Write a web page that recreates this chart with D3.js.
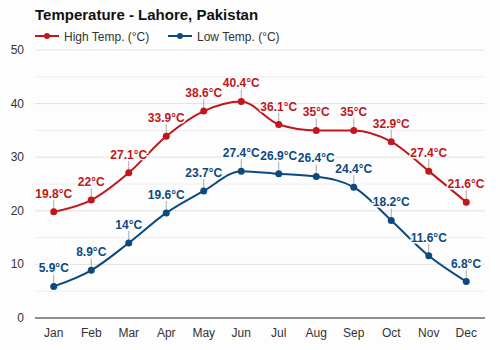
<!DOCTYPE html>
<html><head><meta charset="utf-8">
<script src="https://cdn.jsdelivr.net/npm/d3@7"></script>
<style>body{margin:0;background:#fff}svg{display:block}</style>
</head><body>
<script>
const months = ["Jan","Feb","Mar","Apr","May","Jun","Jul","Aug","Sep","Oct","Nov","Dec"];
const highTemp = [19.8,22,27.1,33.9,38.6,40.4,36.1,35,35,32.9,27.4,21.6];
const lowTemp = [5.9,8.9,14,19.6,23.7,27.4,26.9,26.4,24.4,18.2,11.6,6.8];
const yTicks = [0,10,20,30,40,50];
const title = "Temperature - Lahore, Pakistan";
const seriesNames = ["High Temp. (°C)","Low Temp. (°C)"];

const W=500,H=350;
const svg=d3.select("body").append("svg").attr("width",W).attr("height",H);
svg.append("rect").attr("width",W).attr("height",H).attr("fill","#fdfdfd");
const x=d3.scaleBand().domain(months).range([35,485]);
const y=d3.scaleLinear().domain([0,50]).range([318,50]);
const cx=m=>x(m)+x.bandwidth()/2;
const FONT="Arial, Liberation Sans, sans-serif";

// grid
svg.append("g").selectAll("line").data(d3.range(5,51,5)).join("line")
 .attr("x1",35).attr("x2",485).attr("y1",d=>y(d)).attr("y2",d=>y(d))
 .attr("stroke",d=>d%10===0?"#e2e2e2":"#eeeeee").attr("stroke-width",1);
svg.append("line").attr("x1",35).attr("x2",485).attr("y1",y(0)).attr("y2",y(0)).attr("stroke","#222").attr("stroke-width",1.2);

svg.append("g").selectAll("text").data(yTicks).join("text")
 .attr("x",24).attr("y",d=>y(d)+4).attr("text-anchor","end")
 .attr("font-family",FONT).attr("font-size",12).attr("fill","#333").text(d=>d);
svg.append("g").selectAll("text").data(months).join("text")
 .attr("x",d=>cx(d)).attr("y",337).attr("text-anchor","middle")
 .attr("font-family",FONT).attr("font-size",12).attr("fill","#333").text(d=>d);

svg.append("text").attr("x",35).attr("y",20).attr("font-family",FONT)
 .attr("font-size",15).attr("font-weight","bold").attr("fill","#111").text(title);

const series=[{name:seriesNames[0],vals:highTemp,color:"#c0161c"},{name:seriesNames[1],vals:lowTemp,color:"#0b4a80"}];
const lx=[35,168];
series.forEach((s,i)=>{
 const g=svg.append("g");
 g.append("line").attr("x1",lx[i]).attr("x2",lx[i]+24).attr("y1",36).attr("y2",36).attr("stroke",s.color).attr("stroke-width",2);
 g.append("circle").attr("cx",lx[i]+12).attr("cy",36).attr("r",3).attr("fill",s.color);
 g.append("text").attr("x",lx[i]+29).attr("y",40.5).attr("font-family",FONT)
  .attr("font-size",12).attr("fill","#333").text(s.name);
});

const line=d3.line().x((d,i)=>cx(months[i])).y(d=>y(d)).curve(d3.curveMonotoneX);
series.forEach(s=>{
 const g=svg.append("g");
 g.selectAll("line.lead").data(s.vals).join("line").attr("class","lead")
  .attr("x1",(d,i)=>cx(months[i])).attr("x2",(d,i)=>cx(months[i]))
  .attr("y1",d=>y(d)).attr("y2",d=>y(d)-12).attr("stroke","#aaa").attr("stroke-width",1);
 g.append("path").attr("d",line(s.vals)).attr("fill","none").attr("stroke",s.color).attr("stroke-width",2);
 g.selectAll("circle").data(s.vals).join("circle").attr("cx",(d,i)=>cx(months[i])).attr("cy",d=>y(d)).attr("r",3.5).attr("fill",s.color);
 g.selectAll("text").data(s.vals).join("text")
  .attr("x",(d,i)=>Math.min(cx(months[i]),466))
  .attr("y",d=>y(d)-14).attr("text-anchor","middle")
  .attr("font-family",FONT).attr("font-size",12).attr("font-weight","bold")
  .attr("fill",s.color).attr("stroke","#fdfdfd").attr("stroke-width",3).attr("paint-order","stroke")
  .text(d=>d+"°C");
});
</script>
</body></html>
